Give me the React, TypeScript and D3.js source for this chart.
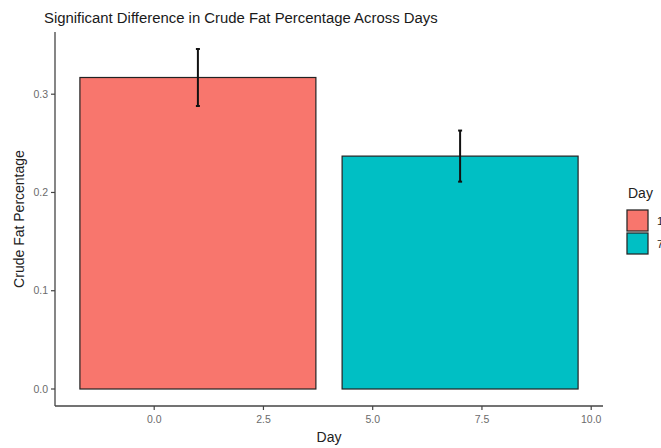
import React from 'react';
import * as d3 from 'd3';

// values
const days = [1, 7];
const dayLabels = ['1', '7'];
const meanFat = [0.317, 0.237];
const seFat = [0.029, 0.026];
const xTicks = [0, 2.5, 5, 7.5, 10];
const yTicks = [0, 0.1, 0.2, 0.3];
const fills = ['#F8766D', '#00BFC4'];

const W = 661, H = 448;
const panel = { left: 55, right: 603, top: 32, bottom: 406 };
const barWidth = 5.4;
const font = '"Liberation Sans", Arial, sans-serif';

const App = () => {
  // ggplot-like 5% expansion of the data range
  const xMin = d3.min(days)! - barWidth / 2, xMax = d3.max(days)! + barWidth / 2;
  const xPad = (xMax - xMin) * 0.05;
  const x = d3.scaleLinear().domain([xMin - xPad, xMax + xPad]).range([panel.left, panel.right]);

  const yMax = d3.max(meanFat.map((m, i) => m + seFat[i]))!;
  const yPad = yMax * 0.05;
  const y = d3.scaleLinear().domain([-yPad, yMax + yPad]).range([panel.bottom, panel.top]);

  const fmt = d3.format('.1f');

  return (
    <svg width={W} height={H} style={{ position: 'absolute', left: 0, top: 0, background: '#fff' }} fontFamily={font}>
      <text x={44} y={23} fontSize={14.9} fill="#1a1a1a">Significant Difference in Crude Fat Percentage Across Days</text>

      {days.map((d, i) => (
        <rect key={d}
          x={x(d - barWidth / 2)} y={y(meanFat[i])}
          width={x(d + barWidth / 2) - x(d - barWidth / 2)}
          height={y(0) - y(meanFat[i])}
          fill={fills[i]} stroke="#222" strokeWidth={1.2} />
      ))}

      {days.map((d, i) => {
        const cx = x(d), lo = y(meanFat[i] - seFat[i]), hi = y(meanFat[i] + seFat[i]);
        return (
          <g key={'e' + d} stroke="#111" strokeWidth={2}>
            <line x1={cx} x2={cx} y1={lo} y2={hi} />
            <line x1={cx - 2} x2={cx + 2} y1={lo} y2={lo} />
            <line x1={cx - 2} x2={cx + 2} y1={hi} y2={hi} />
          </g>
        );
      })}

      {/* axes */}
      <line x1={panel.left} x2={panel.left} y1={panel.top} y2={panel.bottom} stroke="#444" strokeWidth={1.3} />
      <line x1={panel.left} x2={panel.right} y1={panel.bottom} y2={panel.bottom} stroke="#444" strokeWidth={1.3} />

      {yTicks.map(t => (
        <g key={'y' + t}>
          <line x1={panel.left - 4} x2={panel.left} y1={y(t)} y2={y(t)} stroke="#444" strokeWidth={1.2} />
          <text x={panel.left - 7} y={y(t)} dy="0.35em" textAnchor="end" fontSize={10.5} fill="#6b6b6b">{fmt(t)}</text>
        </g>
      ))}
      {xTicks.map(t => (
        <g key={'x' + t}>
          <line x1={x(t)} x2={x(t)} y1={panel.bottom} y2={panel.bottom + 4} stroke="#444" strokeWidth={1.2} />
          <text x={x(t)} y={panel.bottom + 17} textAnchor="middle" fontSize={10.5} fill="#6b6b6b">{fmt(t)}</text>
        </g>
      ))}

      <text x={(panel.left + panel.right) / 2} y={442} textAnchor="middle" fontSize={14} fill="#222">Day</text>
      <text transform={`translate(24,${(panel.top + panel.bottom) / 2}) rotate(-90)`} textAnchor="middle" fontSize={14} fill="#222">Crude Fat Percentage</text>

      {/* legend */}
      <text x={628} y={198} fontSize={14} fill="#222">Day</text>
      {dayLabels.map((lab, i) => (
        <g key={'l' + lab} transform={`translate(626,${209 + i * 23})`}>
          <rect width={23} height={23} fill="#f2f2f2" />
          <rect x={1} y={1} width={21} height={21} fill={fills[i]} stroke="#222" strokeWidth={1.2} />
          <text x={31} y={12} dy="0.35em" fontSize={11.5} fill="#222">{lab}</text>
        </g>
      ))}
    </svg>
  );
};

export default App;
